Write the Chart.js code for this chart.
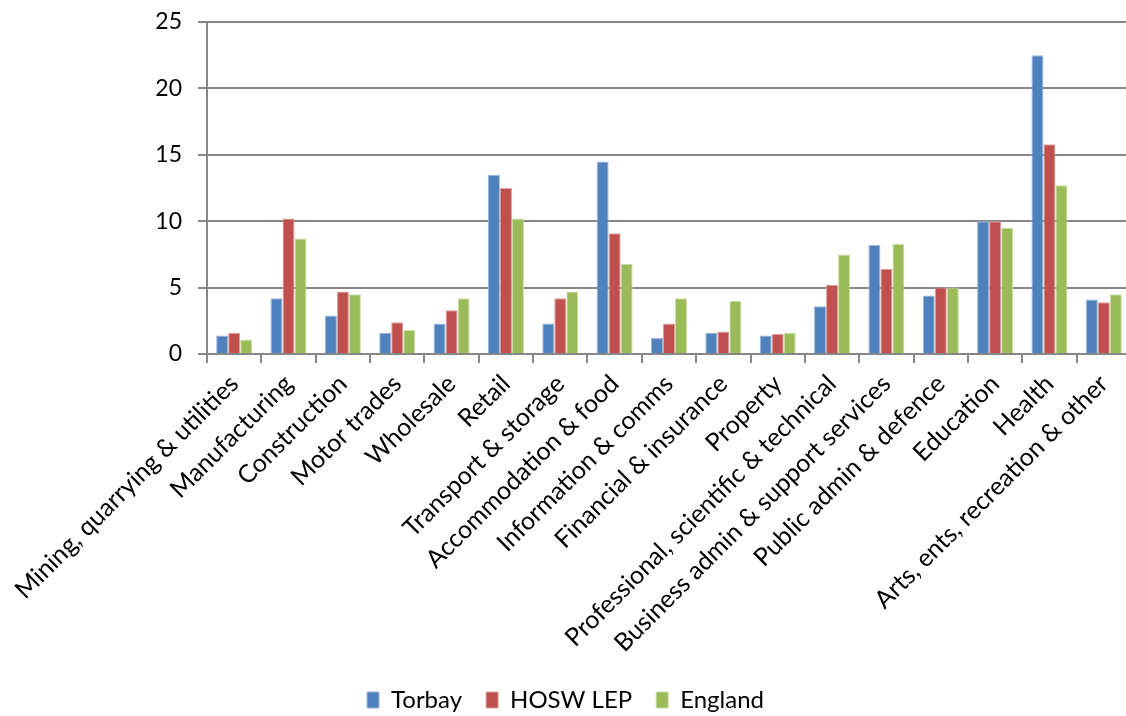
<!DOCTYPE html>
<html>
<head>
<meta charset="utf-8">
<script src="https://cdn.jsdelivr.net/npm/chart.js@4"></script>
<style>
  html, body { margin: 0; padding: 0; background: #fff; overflow: hidden; }
  #wrap { position: relative; width: 1131px; height: 716px; }
</style>
</head>
<body>
<div id="wrap"><canvas id="c"></canvas></div>
<script>
const categories = [
  "Mining, quarrying & utilities", "Manufacturing", "Construction", "Motor trades",
  "Wholesale", "Retail", "Transport & storage", "Accommodation & food",
  "Information & comms", "Financial & insurance", "Property",
  "Professional, scientific & technical", "Business admin & support services",
  "Public admin & defence", "Education", "Health", "Arts, ents, recreation & other"
];
const torbay  = [1.4, 4.2, 2.9, 1.6, 2.3, 13.5, 2.3, 14.5, 1.2, 1.6, 1.4, 3.6, 8.2, 4.4, 10.0, 22.5, 4.1];
const hoswLep = [1.6, 10.2, 4.7, 2.4, 3.3, 12.5, 4.2, 9.1, 2.3, 1.7, 1.5, 5.2, 6.4, 5.0, 10.0, 15.8, 3.9];
const england = [1.1, 8.7, 4.5, 1.8, 4.2, 10.2, 4.7, 6.8, 4.2, 4.0, 1.6, 7.5, 8.3, 5.0, 9.5, 12.7, 4.5];
const seriesNames = ["Torbay", "HOSW LEP", "England"];
const yTicks = [0, 5, 10, 15, 20, 25];

const FONT = "Lato, 'Open Sans', sans-serif";
const GRID = "#878787";

new Chart(document.getElementById('c'), {
  type: 'bar',
  data: {
    labels: categories,
    datasets: [
      { label: seriesNames[0], data: torbay,  backgroundColor: '#4F81BD', borderColor: '#9DB7DA', borderWidth: 1 },
      { label: seriesNames[1], data: hoswLep, backgroundColor: '#C0504D', borderColor: '#DDA09E', borderWidth: 1 },
      { label: seriesNames[2], data: england, backgroundColor: '#9BBB59', borderColor: '#CCDDAA', borderWidth: 1 }
    ]
  },
  options: {
    responsive: true,
    maintainAspectRatio: false,
    animation: false,
    layout: { padding: { top: 22, left: 0, right: 0, bottom: -6 } },
    datasets: { bar: { categoryPercentage: 0.663, barPercentage: 1.0 } },
    plugins: {
      tooltip: { enabled: false },
      legend: {
        position: 'bottom',
        labels: {
          font: { family: FONT, size: 24 },
          color: '#000',
          boxWidth: 12,
          boxHeight: 16,
          padding: 24
        }
      }
    },
    scales: {
      x: {
        grid: { drawOnChartArea: false, drawTicks: true, tickLength: 9, color: GRID, lineWidth: 2, offset: true },
        border: { display: true, color: GRID, width: 2 },
        ticks: {
          autoSkip: false, maxRotation: 45, minRotation: 45,
          font: { family: FONT, size: 25 }, color: '#000', padding: 6
        },
        afterFit: (s) => { s.height = 310; s.paddingLeft = 0; s.paddingRight = 0; }
      },
      y: {
        min: 0, max: 25,
        afterBuildTicks: (s) => { s.ticks = yTicks.map(v => ({ value: v })); },
        grid: { color: GRID, lineWidth: 2, tickLength: 9, drawTicks: true },
        border: { display: true, color: GRID, width: 2 },
        ticks: { font: { family: FONT, size: 23 }, color: '#000', padding: 16 },
        afterFit: (s) => { s.width = 207; s.paddingTop = 0; s.paddingBottom = 0; }
      }
    }
  }
});
</script>
</body>
</html>
